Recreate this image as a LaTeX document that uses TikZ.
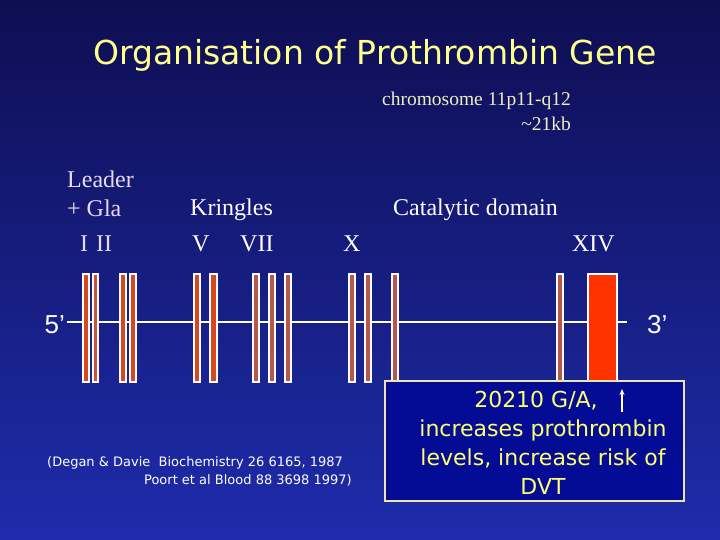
\documentclass[tikz,border=0pt]{standalone}
\usepackage{fontspec}
\setmainfont{Liberation Serif}
\newfontfamily\comic{DejaVu Sans}
\newfontfamily\arialf{Liberation Sans}
\usetikzlibrary{arrows.meta}
\definecolor{bgtop}{RGB}{14,14,82}
\definecolor{bgbot}{RGB}{30,44,172}
\definecolor{titley}{RGB}{255,255,140}
\definecolor{chromy}{RGB}{240,238,190}
\definecolor{lav}{RGB}{232,218,245}
\definecolor{boxfill}{RGB}{4,12,150}
\definecolor{boxline}{RGB}{236,228,170}
\definecolor{boxtext}{RGB}{255,255,110}
\definecolor{exonA}{RGB}{212,74,30}
\definecolor{exonB}{RGB}{200,85,58}
\definecolor{exonC}{RGB}{180,88,78}
\definecolor{exonBig}{RGB}{255,51,0}
\tikzset{
  lbl/.style={inner sep=0pt, text=white, font=\fontsize{24}{28}\selectfont},
  exon/.style={draw=white, line width=1.4pt},
}
\begin{document}
\begin{tikzpicture}[x=1pt,y=-1pt]
\useasboundingbox (0,0) rectangle (720,540);
\shade[top color=bgtop, bottom color=bgbot] (0,0) rectangle (720,540);
% title
\node[inner sep=0pt, text=titley, font=\comic\fontsize{33}{38}\selectfont] (title) at (375,55) {Organisation of Prothrombin Gene};
\node[inner sep=0pt, text=chromy, font=\fontsize{19.5}{22}\selectfont, anchor=east] (chrom) at (571,101) {chromosome 11p11-q12};
\node[inner sep=0pt, text=chromy, font=\fontsize{19.5}{22}\selectfont, anchor=east] (kb) at (571,124) {\char`\~21kb};
% domain labels
\node[lbl, text=lav, anchor=west] (leader) at (67,179) {Leader};
\node[lbl, text=lav, anchor=west] (gla) at (67,208) {+ Gla};
\node[lbl, text=lav, anchor=west] (ex12) at (80,244) {I\hspace{8pt}II};
\node[lbl, anchor=west] (kring) at (190,210) {Kringles};
\node[lbl, anchor=west] (ex5) at (192,244) {V};
\node[lbl, anchor=west] (ex7) at (240,244) {VII};
\node[lbl, anchor=west] (ex10) at (343,244) {X};
\node[lbl, anchor=west] (cat) at (393,210) {Catalytic domain};
\node[lbl, anchor=east] (ex14) at (615,244) {XIV};
% gene line
\coordinate (l5) at (67,322);
\coordinate (l3) at (627,322);
\draw[white, line width=2pt] (l5) -- (l3);
\node[inner sep=0pt, text=white, font=\arialf\fontsize{26}{30}\selectfont, anchor=east] (p5) at (65,325) {5’};
\node[inner sep=0pt, text=white, font=\arialf\fontsize{26}{30}\selectfont, anchor=west] (p3) at (647,325) {3’};
% exons
\foreach \a/\b/\c in {83/89/exonA,93/98/exonB,120/126/exonA,130/136/exonA,194/200/exonA,210/217/exonA,253/259/exonC,269/275/exonC,285/291/exonC,349/355/exonC,365/371/exonC,392/398/exonC,557/563/exonC}
  \draw[exon, fill=\c] (\a,274) rectangle (\b,382);
\draw[exon, fill=exonBig] (588,274) rectangle (617,382);
% citation
\node[inner sep=0pt, text=white, font=\comic\fontsize{13}{15}\selectfont, anchor=west] (cite1) at (47,463) {(Degan \& Davie\ \ Biochemistry 26 6165, 1987};
\node[inner sep=0pt, text=white, font=\comic\fontsize{13}{15}\selectfont, anchor=east] (cite2) at (352,480) {Poort et al Blood 88 3698 1997)};
% box
\draw[draw=boxline, fill=boxfill, line width=1.5pt] (385,381) rectangle (684,501);
\node[inner sep=0pt, text=boxtext, font=\comic\fontsize{22}{29}\selectfont, align=center] (note) at (543,443) {20210 G/A,\hphantom{\ \ }\\increases prothrombin\\levels, increase risk of\\DVT};
\coordinate (arB) at (622,412);
\coordinate (arT) at (622,389);
\draw[white, line width=1.3pt, -{Stealth[length=6pt,width=5pt]}] (arB) -- (arT);
\end{tikzpicture}
\end{document}
